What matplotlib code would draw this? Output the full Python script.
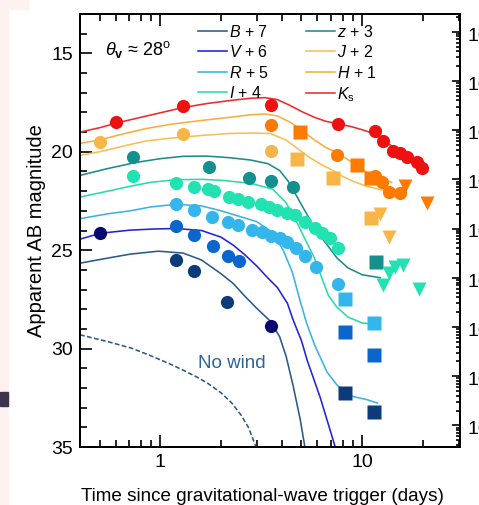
import numpy as np
import matplotlib
matplotlib.use("Agg")
import matplotlib.pyplot as plt
from matplotlib.patches import Rectangle

plt.rcParams['font.family'] = ['Liberation Sans', 'DejaVu Sans']
plt.rcParams['mathtext.fontset'] = 'custom'
plt.rcParams['mathtext.rm'] = 'Liberation Sans'
plt.rcParams['mathtext.it'] = 'Liberation Sans:italic'
plt.rcParams['mathtext.bf'] = 'Liberation Sans:bold'

# ---- model light curves (days, AB mag incl. offsets) ----
ks_line_t = [0.40, 0.50, 0.60, 0.80, 1.0, 1.3, 1.7, 2.2, 2.8, 3.3, 3.8, 4.4, 5.0, 5.8, 6.6, 7.6, 8.8, 10.0, 11.6, 13.0, 14.5, 16.5, 18.5, 20.0]
ks_line_m = [19.00, 18.78, 18.55, 18.25, 18.02, 17.75, 17.55, 17.40, 17.28, 17.25, 17.35, 17.65, 17.95, 18.25, 18.45, 18.58, 18.72, 18.88, 19.10, 19.50, 19.80, 20.15, 20.50, 20.80]

h_line_t = [0.40, 0.50, 0.65, 0.85, 1.1, 1.3, 1.7, 2.2, 2.8, 3.3, 3.8, 4.4, 5.0, 5.8, 6.6, 7.5, 8.5, 9.8, 11.0, 12.5, 14.0]
h_line_m = [19.57, 19.40, 19.10, 18.82, 18.62, 18.52, 18.38, 18.25, 18.12, 18.08, 18.18, 18.50, 18.90, 19.40, 19.78, 20.05, 20.40, 20.85, 21.15, 21.40, 21.55]

j_line_t = [0.40, 0.50, 0.65, 0.85, 1.1, 1.3, 1.7, 2.2, 2.8, 3.5, 4.2, 4.8, 5.5, 6.2, 7.0, 8.0, 9.0, 10.5, 12.3, 14.0]
j_line_m = [20.18, 20.00, 19.72, 19.45, 19.32, 19.25, 19.15, 19.07, 19.05, 19.07, 19.40, 19.85, 20.30, 20.62, 20.90, 21.25, 21.50, 21.75, 21.92, 21.98]

z_line_t = [0.40, 0.55, 0.75, 1.0, 1.3, 1.7, 2.2, 2.8, 3.4, 3.9, 4.3, 4.7, 5.2, 5.8, 6.5, 7.5, 8.5, 10.0, 12.3]
z_line_m = [21.20, 20.85, 20.55, 20.35, 20.23, 20.22, 20.30, 20.42, 20.60, 20.95, 21.50, 22.20, 23.00, 23.85, 24.55, 25.40, 25.90, 26.25, 26.40]

i_line_t = [0.40, 0.55, 0.71, 0.90, 1.2, 1.6, 2.0, 2.8, 3.6, 4.2, 4.7, 5.3, 5.8, 6.3, 6.8, 7.5, 8.5, 10.0, 11.5]
i_line_m = [22.30, 22.00, 21.75, 21.55, 21.42, 21.40, 21.45, 21.60, 21.90, 22.60, 23.50, 24.60, 25.40, 26.40, 27.30, 27.90, 28.40, 28.70, 28.75]

r_line_t = [0.40, 0.55, 0.71, 0.90, 1.2, 1.6, 2.0, 2.5, 3.0, 3.6, 4.06, 4.5, 4.9, 5.3, 5.8, 6.7, 7.5, 8.7, 10.6, 11.9]
r_line_m = [23.40, 23.15, 23.00, 22.80, 22.67, 22.75, 23.00, 23.30, 23.55, 24.10, 25.00, 26.10, 27.50, 28.70, 29.80, 31.20, 31.85, 32.40, 32.60, 32.77]

v_line_t = [0.40, 0.505, 0.71, 0.95, 1.2, 1.6, 2.0, 2.3, 2.6, 3.0, 3.4, 3.8, 4.26, 4.55, 5.0, 5.34, 6.2, 7.35]
v_line_m = [24.44, 24.14, 23.98, 23.92, 23.90, 24.00, 24.34, 24.75, 25.20, 25.80, 26.40, 26.90, 27.70, 28.55, 29.60, 30.60, 32.50, 35.00]

b_line_t = [0.40, 0.55, 0.71, 0.98, 1.3, 1.6, 2.0, 2.3, 2.6, 3.0, 3.5, 3.9, 4.2, 4.55, 4.93, 5.2]
b_line_m = [25.66, 25.40, 25.20, 25.05, 25.15, 25.50, 26.20, 26.70, 27.30, 27.95, 28.60, 29.40, 30.40, 31.90, 33.60, 35.00]

nowind_t = [0.40, 0.56, 0.72, 0.88, 1.1, 1.3, 1.5, 1.71, 2.0, 2.26, 2.5, 2.73, 2.98]
nowind_m = [29.30, 29.67, 29.98, 30.33, 30.75, 31.10, 31.42, 31.75, 32.25, 32.77, 33.35, 34.00, 35.00]

# ---- photometry ----
ks_circ_t = [0.60, 1.30, 3.54, 7.6, 11.6, 12.7, 14.2, 15.4, 16.7, 18.7, 19.8]
ks_circ_m = [18.50, 17.69, 17.64, 18.60, 18.96, 19.47, 19.97, 20.08, 20.28, 20.53, 20.84]

h_circ_t = [3.54, 7.53, 11.6, 12.6, 13.5, 15.4]
h_circ_m = [18.66, 20.18, 21.24, 21.55, 22.06, 22.11]
h_sq_t = [4.93, 9.43, 11.0]
h_sq_m = [19.00, 20.69, 21.35]
h_tri_t = [16.3, 21.0]
h_tri_m = [21.75, 22.61]

j_circ_t = [0.50, 1.30, 3.54]
j_circ_m = [19.52, 19.11, 19.97]
j_sq_t = [4.76, 7.18, 11.0]
j_sq_m = [20.38, 21.35, 23.38]
j_tri_t = [12.3, 13.6]
j_tri_m = [23.17, 24.34]

z_circ_t = [0.735, 1.75, 2.76, 3.54, 4.55]
z_circ_m = [20.28, 20.79, 21.35, 21.50, 21.80]
z_sq_t = [11.7]
z_sq_m = [25.60]

i_circ_t = [0.735, 1.2, 1.46, 1.73, 1.85, 2.2, 2.43, 2.73, 3.16, 3.46, 3.79, 4.26, 4.66, 5.22, 5.85, 6.33, 6.93, 7.6]
i_circ_m = [21.24, 21.60, 21.80, 21.90, 22.00, 22.30, 22.40, 22.56, 22.67, 22.80, 22.97, 23.12, 23.22, 23.58, 23.88, 24.14, 24.39, 24.90]
i_tri_t = [12.7, 13.5, 14.6, 15.9, 19.0]
i_tri_m = [26.78, 26.17, 25.86, 25.76, 26.98]

r_circ_t = [1.2, 1.46, 1.81, 2.17, 2.43, 2.85, 3.2, 3.54, 3.92, 4.26, 4.7, 5.22, 5.9, 7.6]
r_circ_m = [22.67, 22.97, 23.30, 23.58, 23.73, 23.98, 24.10, 24.30, 24.40, 24.60, 24.90, 25.30, 25.86, 26.70]
r_sq_t = [8.2, 11.5]
r_sq_m = [27.50, 28.70]

v_circ_t = [1.2, 1.47, 1.83, 2.17, 2.46]
v_circ_m = [23.78, 24.24, 24.80, 25.30, 25.56]
v_sq_t = [8.2, 11.5]
v_sq_m = [29.16, 30.33]
vn_circ_t = [0.505, 3.54]
vn_circ_m = [24.14, 28.86]

b_circ_t = [1.19, 1.46, 2.15]
b_circ_m = [25.50, 26.07, 27.64]
b_sq_t = [8.2, 11.5]
b_sq_m = [32.26, 33.20]

# colours
c_ks, c_ks_line = '#ee1111', '#ee2a2a'
c_h, c_h_line = '#ff7a00', '#f7ae3c'
c_j, c_j_line = '#f9b648', '#fbbd55'
c_z, c_z_line = '#14908e', '#1c8c8c'
c_i, c_i_line = '#22e2b2', '#28dcaa'
c_r, c_r_line = '#34b6ec', '#3ab2e8'
c_v, c_v_line = '#0a66cc', '#2222dd'
c_vn = '#0a0a6e'
c_b, c_b_line = '#0c3b7a', '#2c5a86'

fig = plt.figure(figsize=(4.79, 5.05), dpi=100)
fig.patches.append(Rectangle((0, 0), 8 / 479, 1, transform=fig.transFigure,
                             color='#fdf2ef', zorder=0))
fig.patches.append(Rectangle((0, 1 - 9 / 505), 28 / 479, 9 / 505, transform=fig.transFigure,
                             color='#fdf2ef', zorder=0))
fig.patches.append(Rectangle((0, 1 - 406 / 505), 8 / 479, 14 / 505,
                             transform=fig.transFigure, color='#3e3250', zorder=1))

ax = fig.add_axes([80 / 479, 58 / 505, 380 / 479, 433 / 505])
lw = 1.15

ax.plot(b_line_t, b_line_m, color=c_b_line, lw=lw, label='$B$ + 7')
ax.plot(v_line_t, v_line_m, color=c_v_line, lw=lw, label='$V$ + 6')
ax.plot(r_line_t, r_line_m, color=c_r_line, lw=lw, label='$R$ + 5')
ax.plot(i_line_t, i_line_m, color=c_i_line, lw=lw, label='$I$ + 4')
ax.plot(z_line_t, z_line_m, color=c_z_line, lw=lw, label='$z$ + 3')
ax.plot(j_line_t, j_line_m, color=c_j_line, lw=lw, label='$J$ + 2')
ax.plot(h_line_t, h_line_m, color=c_h_line, lw=lw, label='$H$ + 1')
ax.plot(ks_line_t, ks_line_m, color=c_ks_line, lw=lw, label=r'$K_{\rm s}$')
ax.plot(nowind_t, nowind_m, color=c_b_line, lw=lw, ls=(0, (3, 1.5)))

ms_c, ms_s, ms_t = 9.5, 10, 10


def pts(t, m, color, marker, ms):
    ax.plot(t, m, ls='none', marker=marker, ms=ms, color=color, mec='none', zorder=3)


pts(ks_circ_t, ks_circ_m, c_ks, 'o', ms_c)
pts(h_circ_t, h_circ_m, c_h, 'o', ms_c)
pts(h_sq_t, h_sq_m, c_h, 's', ms_s)
pts(h_tri_t, h_tri_m, c_h, 'v', ms_t)
pts(j_circ_t, j_circ_m, c_j, 'o', ms_c)
pts(j_sq_t, j_sq_m, c_j, 's', ms_s)
pts(j_tri_t, j_tri_m, c_j, 'v', ms_t)
pts(z_circ_t, z_circ_m, c_z, 'o', ms_c)
pts(z_sq_t, z_sq_m, c_z, 's', ms_s)
pts(i_circ_t, i_circ_m, c_i, 'o', ms_c)
pts(i_tri_t, i_tri_m, c_i, 'v', ms_t)
pts(r_circ_t, r_circ_m, c_r, 'o', ms_c)
pts(r_sq_t, r_sq_m, c_r, 's', ms_s)
pts(v_circ_t, v_circ_m, c_v, 'o', ms_c)
pts(v_sq_t, v_sq_m, c_v, 's', ms_s)
pts(vn_circ_t, vn_circ_m, c_vn, 'o', ms_c)
pts(b_circ_t, b_circ_m, c_b, 'o', ms_c)
pts(b_sq_t, b_sq_m, c_b, 's', ms_s)

ax.set_xscale('log')
ax.set_xlim(0.4, 30.5)
ax.set_ylim(35, 13)
ax.set_xticks([1, 10])
ax.set_xticklabels(['1', '10'])
ax.set_yticks([15, 20, 25, 30, 35])
ax.set_yticks(np.arange(13, 36), minor=True)
ax.tick_params(which='both', direction='in', top=True, right=False, labelsize=14, width=1.2)
ax.tick_params(which='major', length=8.5, pad=5)
ax.tick_params(which='minor', length=5)
ax.tick_params(axis='x', which='minor', labelbottom=False)
for s in ax.spines.values():
    s.set_linewidth(1.4)

ax.set_xlabel('Time since gravitational-wave trigger (days)', fontsize=13.6, labelpad=10)
ax.xaxis.set_label_coords(0.479, -0.095)
ax.set_ylabel('Apparent AB magnitude', fontsize=14.5, labelpad=4)

ax.text(0.53, 14.8, r'$\theta_{\bf v}$ ≈ 28$^{\rm o}$', fontsize=13, va='center')
ax.text(2.27, 30.75, 'No wind', fontsize=13.5, color='#2f6496', ha='center', va='center')

ax.legend(loc='upper left', bbox_to_anchor=(0.285, 1.0), ncol=2, frameon=False,
          fontsize=11.5, handlelength=1.8, handletextpad=0.15, columnspacing=2.3,
          labelspacing=0.28, borderaxespad=0.2)

# flux density axis (erg s^-1 cm^-2 Hz^-1)
ax2 = ax.twinx()
ax2.set_yscale('log')
ax2.set_ylim(10 ** (-(35 + 48.6) / 2.5), 10 ** (-(13 + 48.6) / 2.5))
ax2.tick_params(which='both', direction='in', labelsize=14, width=1.2, pad=5)
ax2.tick_params(which='major', length=5.5)
ax2.tick_params(which='minor', length=3)
for s in ax2.spines.values():
    s.set_linewidth(1.4)

fig.savefig('out.png', dpi=100)
